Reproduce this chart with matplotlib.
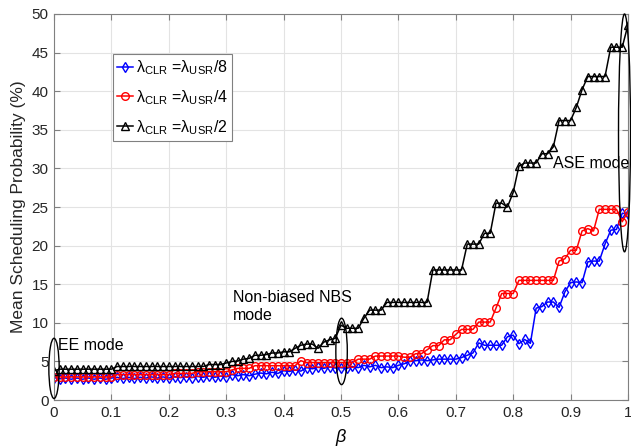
#!/usr/bin/env python3

"""Mean scheduling probability versus beta for three CLR/USR ratios."""

import numpy as np
import matplotlib
matplotlib.use("Agg")
import matplotlib.pyplot as plt
from matplotlib.patches import Ellipse

plt.rcParams['font.family'] = ['Liberation Sans', 'DejaVu Sans']
plt.rcParams['mathtext.fontset'] = 'custom'
plt.rcParams['mathtext.rm'] = 'Liberation Sans'
plt.rcParams['mathtext.it'] = 'Liberation Sans'

beta = np.round(np.arange(101) * 0.01, 2)

# lambda_CLR = lambda_USR / 8
prob_8 = [2.9, 2.75, 2.85, 2.7, 2.85, 2.7, 2.85, 2.7, 2.85, 2.7,
          2.85, 2.95, 2.8, 2.95, 2.8, 2.95, 2.85, 3.0, 2.85, 3.0,
          2.85, 3.05, 2.9, 3.05, 2.9, 3.05, 2.95, 3.1, 2.95, 3.1,
          3.0, 3.3, 3.15, 3.3, 3.15, 3.35, 3.5, 3.4, 3.6, 3.45,
          3.8, 3.7, 3.9, 3.75, 4.2, 4.05, 4.25, 4.1, 4.3, 4.15,
          4.2, 4.1, 4.35, 4.2, 4.5, 4.3, 4.5, 4.2, 4.3, 4.2,
          4.5, 4.7, 5.0, 5.1, 5.2, 5.1, 5.2, 5.3, 5.3, 5.3,
          5.3, 5.5, 5.8, 6.1, 7.4, 7.1, 7.1, 7.1, 7.1, 8.2,
          8.4, 7.3, 7.85, 7.35, 11.9, 12.1, 12.7, 12.7, 12.0, 14.0,
          15.2, 15.3, 15.2, 17.9, 18.0, 18.0, 20.2, 22.0, 22.1, 24.2,
          24.1]

# lambda_CLR = lambda_USR / 4
prob_4 = [3.0, 3.0, 3.0, 3.0, 3.0, 3.0, 3.0, 3.0, 3.0, 3.0,
          3.0, 3.3, 3.3, 3.3, 3.3, 3.3, 3.3, 3.3, 3.3, 3.3,
          3.3, 3.45, 3.45, 3.45, 3.45, 3.67, 3.67, 3.67, 3.67, 3.67,
          3.67, 3.9, 4.1, 4.1, 4.1, 4.45, 4.45, 4.45, 4.45, 4.45,
          4.45, 4.45, 4.45, 5.1, 4.85, 4.85, 4.85, 4.85, 4.85, 4.85,
          4.85, 4.85, 4.85, 5.3, 5.3, 5.3, 5.7, 5.7, 5.7, 5.7,
          5.7, 5.55, 5.55, 6.0, 6.0, 6.5, 7.05, 7.05, 7.8, 7.8,
          8.5, 9.15, 9.15, 9.15, 10.1, 10.1, 10.1, 11.9, 13.8, 13.8,
          13.8, 15.5, 15.5, 15.5, 15.5, 15.5, 15.5, 15.5, 18.0, 18.3,
          19.4, 19.4, 21.9, 22.2, 21.9, 24.7, 24.7, 24.7, 24.7, 23.1,
          24.4]

# lambda_CLR = lambda_USR / 2
prob_2 = [3.8, 4.0, 4.0, 4.0, 4.0, 4.0, 4.0, 4.0, 4.0, 4.0,
          4.0, 4.35, 4.35, 4.35, 4.35, 4.35, 4.35, 4.35, 4.35, 4.35,
          4.35, 4.35, 4.35, 4.35, 4.35, 4.35, 4.35, 4.6, 4.6, 4.6,
          4.8, 5.0, 5.05, 5.3, 5.4, 5.8, 5.8, 5.9, 6.1, 6.1,
          6.25, 6.25, 6.7, 7.1, 7.25, 7.25, 6.7, 7.5, 7.8, 8.0,
          9.7, 9.3, 9.3, 9.3, 10.6, 11.65, 11.65, 11.65, 12.65, 12.65,
          12.65, 12.65, 12.65, 12.65, 12.65, 12.65, 16.85, 16.85, 16.85, 16.85,
          16.85, 16.85, 20.2, 20.2, 20.2, 21.6, 21.6, 25.5, 25.5, 25.0,
          26.9, 30.3, 30.7, 30.7, 30.7, 31.9, 31.9, 32.8, 36.2, 36.2,
          36.2, 37.9, 40.2, 41.9, 41.9, 41.9, 41.9, 45.7, 45.7, 45.7,
          48.6]

labels = [r"λ$_{\mathrm{CLR}}$ =λ$_{\mathrm{USR}}$/8",
          r"λ$_{\mathrm{CLR}}$ =λ$_{\mathrm{USR}}$/4",
          r"λ$_{\mathrm{CLR}}$ =λ$_{\mathrm{USR}}$/2"]

fig = plt.figure(figsize=(6.31, 4.47), dpi=100)
ax = fig.add_axes([0.0856, 0.105, 0.9096, 0.8637])

mk = dict(markersize=5.5, markerfacecolor='none', markeredgewidth=1.0, linewidth=1.1)
ax.plot(beta, prob_8, color='blue', marker='d', label=labels[0], **mk)
ax.plot(beta, prob_4, color='red', marker='o', label=labels[1], **mk)
ax.plot(beta, prob_2, color='black', marker='^', label=labels[2], **mk)

# mode annotations
for xc, yc, w, h in [(0.0, 4.1, 0.018, 7.8), (0.501, 6.3, 0.02, 8.6), (0.994, 34.6, 0.021, 30.8)]:
    ax.add_patch(Ellipse((xc, yc), w, h, fill=False, edgecolor='black', lw=1.0, clip_on=False, zorder=5))
ax.text(0.007, 7.1, "EE mode", fontsize=11.5, va='center', ha='left')
ax.text(0.312, 12.1, "Non-biased NBS\nmode", fontsize=11.5, va='center', ha='left', linespacing=1.25)
ax.text(0.87, 30.7, "ASE mode", fontsize=11.5, va='center', ha='left', clip_on=False)

ax.set_xlim(0, 1)
ax.set_ylim(0, 50)
ax.set_xticks(np.arange(0, 1.01, 0.1))
ax.set_xticklabels(["0", "0.1", "0.2", "0.3", "0.4", "0.5", "0.6", "0.7", "0.8", "0.9", "1"])
ax.set_yticks(np.arange(0, 51, 5))
ax.grid(True, color='#e3e3e3', linewidth=0.8)
ax.set_axisbelow(True)
for s in ax.spines.values():
    s.set_color('#808080')
    s.set_linewidth(0.8)
ax.tick_params(direction='in', top=True, right=True, length=4, color='#808080',
               labelsize=11, labelcolor='#262626', pad=4)

ax.set_xlabel("β", fontsize=13, fontstyle='italic', labelpad=7)
ax.set_ylabel("Mean Scheduling Probability (%)", fontsize=12.5, color='#262626', labelpad=4)

leg = ax.legend(loc='upper left', bbox_to_anchor=(0.102, 0.896), fontsize=11.5,
                handlelength=1.0, handletextpad=0.2, borderpad=0.25, borderaxespad=0,
                labelspacing=0.7, fancybox=False, framealpha=1, edgecolor='#808080')
leg.get_frame().set_linewidth(0.8)

plt.savefig("out.png", dpi=100)
